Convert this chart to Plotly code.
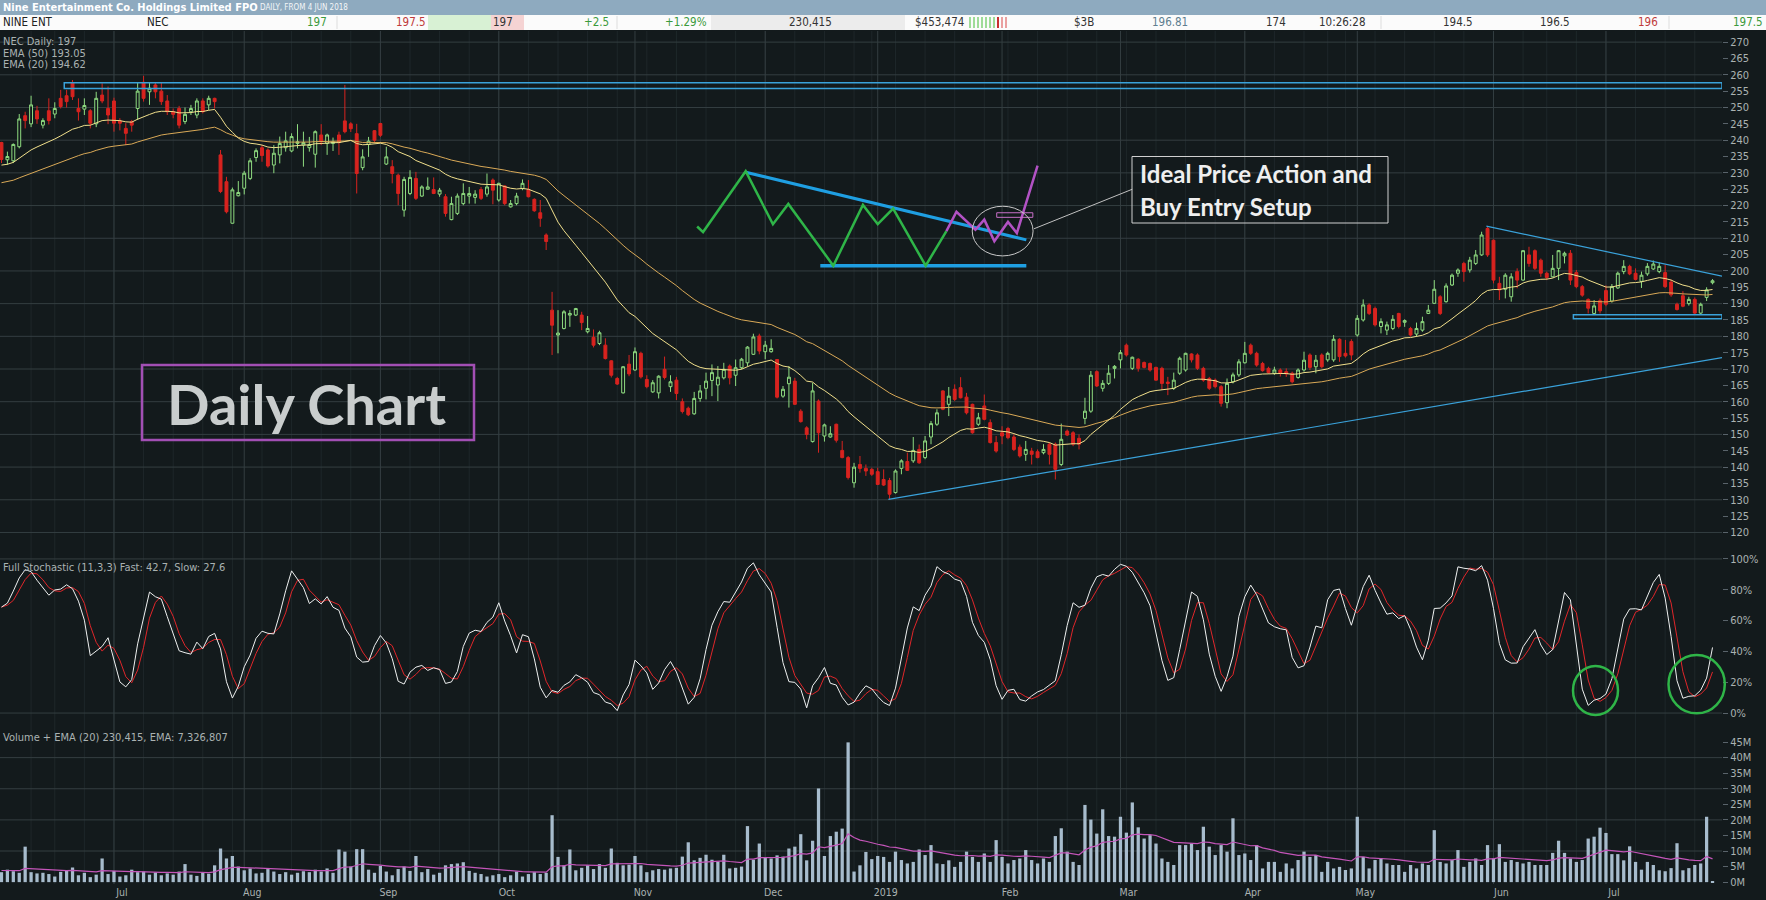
import pandas as pd
import plotly.graph_objects as go

# NEC daily candles, 4 Jun 2018 - 25 Jul 2019
opens = [
    239.3, 234, 233.7, 238, 247.5, 245, 249, 244.6, 249, 248,
    252.8, 253.6, 257.5, 249.7, 249.5, 249, 245, 253.8, 249.7, 252,
    245.9, 243.6, 245.7, 249.7, 257.7, 254.8, 256.9, 255, 252, 248.7,
    249.7, 245.7, 248.7, 247.7, 252, 250.8, 252.8, 235.5, 227.3, 214.6,
    223, 225.3, 228.3, 234.7, 237.7, 237, 232.4, 235.5, 237.7, 236.7,
    239, 238.5, 237.7, 235.7, 241.6, 239, 239, 241.6, 245.9, 245,
    242, 231.6, 238.7, 242.9, 245.1, 232.7, 231.9, 229.3, 218.6, 223.7,
    228.3, 222.9, 225, 224.9, 223.5, 222.7, 215.7, 217.6, 220.6, 222.9,
    222.5, 224.9, 223.5, 227.8, 221.7, 226, 219.6, 220.6, 225.2, 224.9,
    221.9, 217.8, 211, 188, 180.4, 182.4, 186.5, 186.5, 186.5, 181.4,
    179.7, 177.8, 177.3, 172.5, 167.1, 162.7, 171.5, 169.7, 174.8, 166.8,
    163, 162.7, 169.9, 164.6, 166.6, 160, 158, 156.3, 161, 164.1,
    166.5, 165.1, 167.3, 170.9, 168.1, 170.4, 171.9, 174.5, 180.1, 175.3,
    175.3, 172.9, 161.7, 165.5, 166.3, 157.1, 152, 147.8, 160.2, 149.5,
    149.2, 153.1, 145.1, 142.9, 135.2, 140.8, 139.6, 139.3, 138.6, 136.2,
    135.9, 132.2, 139.6, 141.7, 141.9, 145.4, 142.9, 149.2, 153.1, 163.3,
    159.2, 163.8, 164.3, 161.4, 159.2, 153.1, 158.7, 153.6, 147.5, 150.5,
    151.8, 149.2, 146.1, 143.9, 144.9, 144.7, 144.4, 147, 147, 140.8,
    151, 150.5, 148.8, 154.9, 157.1, 169.2, 164.1, 165.6, 170.2, 172.8,
    177.3, 170.2, 173, 172, 171.7, 170.5, 170.2, 166, 164.1, 168.7,
    169.7, 174.6, 174.3, 170.2, 167.1, 166.6, 164.6, 159.7, 166.1, 168.2,
    171.9, 177.3, 174.8, 171.7, 170.2, 168.7, 169.7, 169.2, 168.7, 167.4,
    169.7, 174.3, 170.7, 174.3, 172.8, 172.8, 179.1, 174.8, 178.4, 180.4,
    185, 189.6, 188.5, 183, 181.9, 182.4, 187, 184.3, 182.4, 180.7,
    181.9, 187, 190.1, 192.1, 190.6, 195.7, 199.3, 202.3, 200.3, 202.3,
    204.9, 213, 209.4, 196.2, 194.4, 192.1, 199.8, 197.2, 204.9, 206.2,
    203.3, 199.3, 198.2, 200.8, 204.6, 205.4, 199.5, 195.2, 191.3, 187,
    190.9, 194, 190.8, 194.8, 199.8, 201.4, 199.3, 196.8, 199.1, 200.6,
    199.8, 199.5, 196.6, 189.8, 192.4, 190, 191.3, 187.1, 191.9, 196.4,
]
highs = [
    239.5, 236.5, 239, 248, 248.7, 253.6, 250.5, 246.7, 252.8, 251.6,
    255.4, 255.4, 258.4, 252.8, 252.8, 249.5, 254.8, 257.4, 256.4, 253,
    246.7, 245.2, 246.2, 257.7, 259.7, 257.7, 257.7, 257.7, 253.8, 249.7,
    250.5, 250, 250.8, 252.8, 252.8, 253.6, 253, 237, 228.8, 225.5,
    227.5, 230.6, 234.5, 237.5, 238.5, 237.5, 238.5, 241.1, 242.6, 242.1,
    244.9, 242.6, 241, 243, 244.9, 242, 240.8, 242.6, 256.9, 245.5,
    245, 237.2, 241, 243.1, 245.3, 238, 233.9, 229.8, 228.8, 230.8,
    230.3, 226.2, 228.6, 228.6, 225.4, 223.5, 222.7, 223.7, 226.8, 225.7,
    224.7, 225.7, 229.8, 228.3, 227, 226.2, 221.7, 223.9, 228, 227.8,
    222.2, 221.7, 211.5, 193.6, 188, 188, 188, 188.7, 187.5, 186.2,
    182.1, 181.7, 179.4, 172.7, 167.6, 170.9, 174.3, 176.6, 175.3, 168.1,
    166.6, 168.1, 173.8, 168.1, 167.6, 161, 158.5, 163, 165.1, 168.9,
    171.4, 170.9, 171.9, 171.4, 172.9, 173.4, 177, 180.8, 180.8, 178.6,
    179.1, 173, 164.8, 170.9, 167.3, 157.7, 152.5, 165.8, 160.7, 153.3,
    152.5, 153.3, 148, 143.4, 141.3, 143.4, 140.8, 139.8, 139.8, 139.3,
    136.7, 139.3, 142.4, 144.4, 149.2, 146.9, 149.5, 154.1, 157.7, 163.5,
    164.5, 165.3, 167.5, 162.7, 159.4, 156.6, 162.2, 154.6, 149.5, 152.5,
    152.3, 150, 146.9, 148, 145.9, 145.4, 147, 147.5, 147.5, 153.3,
    151.5, 151, 150, 161.2, 169.4, 169.6, 166.6, 171.2, 171.2, 175.8,
    177.8, 173.8, 173.3, 172.3, 172, 170.7, 170.7, 167.6, 168.9, 173.8,
    175, 174.8, 174.8, 170.7, 167.6, 167.1, 165.1, 167.1, 168.9, 173,
    178.3, 177.8, 175.3, 172.2, 170.7, 170.7, 170.2, 170.2, 169.2, 170.2,
    175.3, 174.8, 174.3, 174.8, 175.3, 180.4, 179.4, 178.9, 179.1, 186.5,
    191.3, 190.1, 189.1, 185.5, 184.5, 186.5, 187.2, 185.2, 182.9, 184.2,
    186, 189.6, 197.2, 192.6, 196.2, 199.2, 200.8, 202.8, 204.3, 206.4,
    212, 213.7, 209.6, 198.2, 199.3, 199.3, 200.8, 206.4, 207.4, 206.6,
    203.8, 199.8, 204.9, 206.4, 205.9, 206.4, 200.3, 195.7, 191.6, 191.1,
    191.6, 195.6, 196, 199.8, 203.3, 201.9, 200.8, 199.8, 202.4, 203.2,
    202.6, 201.9, 197.4, 190.3, 193.8, 192.1, 191.9, 190.3, 195, 197.5,
]
lows = [
    233, 232.5, 233, 237.5, 243.6, 244, 245, 243.6, 244.8, 246.7,
    249.7, 250, 252.3, 246, 247.7, 243.6, 244, 251.3, 244.9, 242.6,
    243, 238.5, 242.6, 246.2, 251.8, 250.8, 252.8, 250.8, 247.7, 246.7,
    243.6, 244.9, 247.7, 246.7, 248.2, 249.2, 249.7, 223.8, 217.6, 214.5,
    222.8, 223.4, 227.8, 233.4, 233.4, 231.6, 229.9, 232.9, 236.5, 236.3,
    237.5, 231.9, 236.5, 231.6, 238.5, 235.5, 236.7, 235.5, 242.1, 242.5,
    223.7, 230.8, 234.9, 239.5, 241, 232.4, 226.8, 220.1, 216.6, 223.2,
    221.7, 222.7, 224.9, 223.5, 222.7, 216.6, 215.5, 217.1, 220.1, 220.6,
    220.6, 221.7, 222.7, 220.4, 221.2, 220.1, 219.4, 220.1, 224.7, 222.5,
    218.1, 213.5, 206.4, 174.3, 174.8, 182.1, 182.9, 186.2, 181.9, 180.9,
    176.6, 177.3, 172.9, 167.4, 165.1, 162.5, 167.8, 169.5, 167.1, 164.1,
    162.7, 161, 166.8, 163, 160.5, 156.4, 155.6, 156, 160, 160.7,
    161.7, 160.2, 166.8, 165.3, 164.8, 169.9, 170.9, 174.3, 174.5, 173,
    175, 161, 161.2, 158.2, 159, 153.6, 148.5, 147.5, 144.4, 147.8,
    149, 147.5, 142.7, 136.2, 133.7, 138.3, 137.3, 137.3, 134.5, 134.2,
    130.1, 131.9, 137.8, 138.8, 141.3, 141, 142.4, 147, 152.6, 157.4,
    155.6, 160.2, 161, 156.1, 150.2, 152.6, 154.3, 147.2, 144.4, 147,
    148.5, 144.9, 142.9, 141.9, 140.8, 142.7, 143.9, 140.8, 136.2, 140.3,
    149.5, 146.4, 145.4, 153.1, 156.6, 164.5, 163.1, 165.1, 167.1, 170.2,
    173.8, 169.7, 169.2, 170.2, 169.2, 166.4, 163.6, 162, 163.6, 168.2,
    169.2, 172, 169.7, 166.1, 163.6, 164.1, 158.5, 158, 165.6, 167.6,
    171.7, 174.3, 170.7, 169.2, 168.5, 168.2, 167.7, 167.6, 165.6, 167,
    169.2, 169.7, 168.7, 170.2, 172.2, 172.2, 172.2, 173.5, 172.7, 179.9,
    184.5, 186.5, 183, 180.9, 180.4, 181.9, 182.4, 182.9, 179.9, 180.1,
    181.4, 186.8, 189.9, 186.5, 190.3, 195.4, 198.2, 196.7, 199.5, 201.8,
    204.6, 204.3, 196.2, 191.1, 191.6, 190.6, 194.7, 197, 201.3, 200.3,
    198.2, 197.2, 198, 197.2, 202.3, 195.7, 194.7, 192.1, 187, 186.5,
    187, 189.2, 190.3, 194.5, 199, 198.7, 197.1, 194.8, 198.5, 200.3,
    199.3, 194.8, 192.1, 187.9, 188.9, 189.4, 186.6, 186.8, 190.8, 195.9,
]
closes = [
    234.1, 235, 238.7, 246.5, 246, 250.8, 246.5, 246, 246, 249.7,
    250.3, 251.8, 253.3, 248.7, 250.6, 245.2, 252.8, 252, 247.7, 245.2,
    245.2, 242.1, 244.6, 255, 252.8, 255.9, 254.8, 251.8, 248.7, 247.9,
    244.6, 247.9, 249.7, 252, 248.7, 252.8, 251.8, 224.3, 218.1, 224.8,
    224, 229.9, 233.7, 236.8, 235.3, 232.1, 236, 239, 239.8, 241.1,
    239.5, 239.3, 238.7, 242.6, 239.5, 241.6, 239.5, 239.3, 242.6, 243.5,
    229.8, 234.9, 239.7, 240, 241.5, 234.9, 229.8, 223.7, 228, 228.6,
    222.2, 225.7, 225.7, 223.7, 224.7, 217.6, 220.6, 222.9, 223.7, 223.7,
    223.5, 222.2, 225.7, 224.7, 226.8, 220.6, 220.6, 222.9, 226.8, 222.7,
    218.4, 216.1, 209, 183.4, 181, 187.5, 187, 188.5, 184.2, 182.4,
    177.3, 181.1, 173.2, 168.1, 165.4, 170.7, 168.5, 175.3, 167.6, 164.6,
    165.8, 167.8, 167.4, 166.1, 162.5, 157, 156, 161, 163.3, 166.3,
    168.9, 167.5, 169.9, 167.3, 170.4, 173, 176.7, 179.8, 175.5, 177.3,
    176.3, 161.4, 163.8, 167.5, 159.2, 153.9, 150, 163.3, 150.5, 152.9,
    150.2, 148.2, 142.9, 136.8, 140, 139.6, 138.8, 137.8, 134.7, 134.5,
    131.7, 138.8, 141.9, 139, 145.1, 141.3, 148, 153.3, 156.6, 157.7,
    161.7, 160.7, 161.2, 156.6, 150.5, 155.1, 154.6, 147.5, 144.9, 149.5,
    149, 145.4, 143.4, 145.4, 143.9, 142.9, 145.4, 143.9, 139.3, 148.5,
    149.8, 147, 147, 157.1, 168.1, 164.8, 165.6, 168.7, 170.8, 175,
    174.3, 173.6, 170.2, 170.5, 169.7, 166.6, 165.6, 165.6, 166.6, 173.3,
    174.8, 172.8, 170.2, 166.6, 164.1, 164.6, 159.5, 165.6, 168.2, 172.2,
    174.8, 174.8, 171.2, 169.5, 168.9, 169.7, 168.7, 168.5, 166.1, 169.7,
    172.7, 170.5, 172.7, 170.7, 174.8, 179.1, 173.8, 174, 174.3, 185.5,
    189.6, 187, 183.5, 184.5, 183.5, 185.2, 183, 184.8, 180.4, 182.4,
    184.5, 188, 194.4, 187, 195.4, 198.7, 200.3, 199.8, 203.3, 204.9,
    211, 204.9, 197.2, 194.2, 198.7, 198.2, 197.2, 206.2, 202.3, 200.8,
    199.3, 198, 200.8, 206.2, 205.4, 197.2, 195.2, 192.6, 188.6, 189.3,
    187.8, 189.8, 195.2, 199.3, 201.4, 199.1, 197.4, 198.7, 201.4, 202.1,
    201.4, 195.2, 192.7, 188.2, 189.2, 191.3, 187.1, 189.8, 194.2, 197,
]
# daily volume, millions of shares
volumes_m = [
    3.2, 4.0, 3.5, 3.0, 11.4, 3.2, 2.8, 3.0, 2.6, 1.8,
    3.3, 3.8, 4.7, 2.2, 3.0, 1.6, 2.4, 7.6, 2.6, 3.6,
    1.8, 2.2, 4.0, 3.2, 3.4, 2.4, 3.1, 2.2, 2.8, 2.4,
    3.4, 5.8, 2.4, 2.0, 3.0, 2.7, 5.4, 10.8, 7.6, 8.4,
    5.0, 3.8, 4.4, 2.8, 3.0, 4.2, 3.4, 2.6, 3.2, 2.4,
    3.0, 3.5, 3.2, 4.0, 3.4, 4.4, 3.0, 10.5, 9.8, 5.0,
    10.6, 10.6, 4.0, 3.0, 5.2, 3.4, 2.2, 4.2, 5.0, 3.6,
    8.4, 3.2, 4.2, 2.4, 3.0, 5.4, 5.8, 6.0, 6.4, 3.6,
    3.0, 2.6, 1.8, 2.2, 2.6, 1.6, 2.2, 3.4, 1.8, 2.6,
    3.2, 2.6, 3.0, 21.5, 8.1, 5.4, 10.5, 3.8, 4.6, 5.4,
    4.2, 5.8, 4.6, 10.8, 6.2, 5.4, 5.6, 8.4, 5.4, 3.2,
    3.8, 4.2, 4.0, 4.4, 4.6, 8.2, 12.8, 7.0, 7.8, 8.8,
    7.2, 6.6, 8.8, 4.4, 4.6, 5.0, 18.0, 7.2, 12.4, 8.0,
    7.6, 8.6, 8.2, 10.8, 11.4, 15.4, 7.0, 13.3, 30.1, 8.4,
    14.8, 16.2, 17.2, 44.9, 3.4, 5.4, 9.7, 7.4, 8.4,
    8.1, 6.5, 9.8, 7.1, 6.0, 6.5, 10.5, 8.7, 11.9, 6.0,
    5.8, 7.0,
    4.9, 6.5, 9.8, 8.1, 6.5, 9.2, 6.5, 13.5, 8.1, 6.0,
    7.1, 7.6, 10.3, 7.1, 6.0, 7.6, 6.5, 14.8, 17.3, 9.8,
    6.5, 5.5, 24.8, 20.1, 15.6, 23.4, 14.8, 14.6, 21.0, 15.9,
    25.6, 17.6, 14.0, 15.1, 12.4, 7.6, 6.5, 5.5, 11.9, 11.9,
    12.4, 10.3, 17.8, 11.4, 8.7, 11.9, 9.8, 20.5, 8.7, 9.2,
    7.1, 11.9, 4.4, 6.5, 6.5, 3.3, 6.0, 4.4, 7.1, 9.8,
    8.1, 8.7, 3.3, 6.5, 4.4, 4.9, 3.9, 4.4, 21.0, 8.1,
    4.4, 7.1, 7.6, 6.0, 5.5, 5.5, 3.3, 5.5, 4.4, 6.0,
    5.5, 16.7, 6.5, 6.0, 7.1, 10.3, 4.9, 6.5, 7.6, 5.5,
    11.9, 7.6, 12.2, 6.5, 7.1, 6.5, 6.0, 6.5, 5.5, 5.5,
    5.5, 9.4, 13.3, 9.4, 7.6, 6.5, 7.1, 14.0, 14.6, 17.5,
    15.8, 9.0, 9.0, 7.0, 11.5, 6.5, 4.0, 6.5, 5.5, 3.8,
    3.5, 4.5, 12.5, 3.8, 4.5, 5.5, 6.0, 21.0, 0.23,
]
# indicator state at the left edge of the chart (from trading before 4 Jun)
ema20_start = 232.2
ema50_start = 226.7
vol_ema_start = 3.8
prior_high = 239.6   # 10-day high / low just before the first bar
prior_low = 222.0

# axis tick labels
price_ticks = list(range(120, 271, 5))
stoch_ticks = list(range(0, 101, 20))
vol_ticks = list(range(0, 46, 5))

asx_holidays = ["2018-06-11", "2018-12-25", "2018-12-26", "2019-01-01",
                "2019-01-28", "2019-04-19", "2019-04-22", "2019-04-25", "2019-06-10"]

days = pd.bdate_range("2018-06-04", "2019-07-25")
days = days[~days.isin(pd.to_datetime(asx_holidays))][:len(closes)]
idx = list(range(len(days)))


def ema(vals, span, seed):
    k = 2.0 / (span + 1)
    e = seed
    out = []
    for v in vals:
        e = e + k * (v - e)
        out.append(e)
    return out


ema20 = ema(closes, 20, ema20_start)
ema50 = ema(closes, 50, ema50_start)
vol_ema = ema(volumes_m, 20, vol_ema_start)

# full stochastic (11,3,3)
raw_k = []
for i in idx:
    hi = max(highs[max(0, i - 10):i + 1])
    lo = min(lows[max(0, i - 10):i + 1])
    if i < 10:
        hi, lo = max(hi, prior_high), min(lo, prior_low)
    raw_k.append(100 * (closes[i] - lo) / (hi - lo))
fast = pd.Series(raw_k).rolling(3, min_periods=1).mean()
slow = fast.rolling(3, min_periods=1).mean()

# month ticks and weekly lines
month_idx = [i for i in idx if i == 0 or days[i].month != days[i - 1].month][1:]
month_txt = ["2019" if days[i].month == 1 else days[i].strftime("%b") for i in month_idx]
week_idx = [i for i in idx[1:] if days[i].weekday() < days[i - 1].weekday()]

BG = "#131a1c"
GRID = "#343e41"
WEEK = "#1e272a"
TXT = "#aab2b2"
FONT = "Liberation Sans Narrow, DejaVu Sans Condensed, Arial Narrow, sans-serif"
BOLDF = "Lato, Open Sans, sans-serif"

W, H = 1766, 900
PR, PT, PB = 1722, 31, 884


def px(x):
    return x / PR


def py(y):
    return (PB - y) / (PB - PT)


fig = go.Figure()

fig.add_trace(go.Candlestick(
    x=idx, open=opens, high=highs, low=lows, close=closes,
    increasing=dict(line=dict(color="#8fdc80", width=1), fillcolor=BG),
    decreasing=dict(line=dict(color="#d8231f", width=1), fillcolor="#d8231f"),
    whiskerwidth=0, showlegend=False, yaxis="y"))
fig.add_trace(go.Scatter(x=idx, y=ema50, mode="lines", line=dict(color="#d9a957", width=1),
                         showlegend=False, yaxis="y"))
fig.add_trace(go.Scatter(x=idx, y=ema20, mode="lines", line=dict(color="#f1e08c", width=1),
                         showlegend=False, yaxis="y"))

fig.add_trace(go.Scatter(x=idx, y=slow, mode="lines", line=dict(color="#e0262a", width=1),
                         showlegend=False, yaxis="y2"))
fig.add_trace(go.Scatter(x=idx, y=fast, mode="lines", line=dict(color="#eef0f0", width=1),
                         showlegend=False, yaxis="y2"))

fig.add_trace(go.Bar(x=idx, y=volumes_m, marker=dict(color="#a7bccd", line=dict(width=0)),
                     showlegend=False, yaxis="y3"))
fig.add_trace(go.Scatter(x=idx, y=vol_ema, mode="lines", line=dict(color="#c455b9", width=1.2),
                         showlegend=False, yaxis="y3"))

shapes = []
# grid
for i in week_idx:
    shapes.append(dict(type="line", xref="x", yref="paper", x0=i, x1=i, y0=0, y1=1,
                       line=dict(color=WEEK, width=1), layer="below"))
for i in month_idx:
    shapes.append(dict(type="line", xref="x", yref="paper", x0=i, x1=i, y0=0, y1=1,
                       line=dict(color=GRID, width=1), layer="below"))
for p in range(120, 271, 10):
    shapes.append(dict(type="line", xref="paper", yref="y", x0=0, x1=1, y0=p, y1=p,
                       line=dict(color=GRID, width=1), layer="below"))
for s in (0, 100):
    shapes.append(dict(type="line", xref="paper", yref="y2", x0=0, x1=1, y0=s, y1=s,
                       line=dict(color=GRID, width=1), layer="below"))
for v in (10, 20, 30, 40):
    shapes.append(dict(type="line", xref="paper", yref="y3", x0=0, x1=1, y0=v, y1=v,
                       line=dict(color=GRID, width=1), layer="below"))

BLUE = "#3aa2da"
# resistance and support boxes, trend lines
shapes.append(dict(type="rect", xref="x", yref="y", x0=10.6, x1=290.6, y0=255.8, y1=257.6,
                   line=dict(color=BLUE, width=1.5)))
shapes.append(dict(type="rect", xref="x", yref="y", x0=265.5, x1=290.6, y0=185.4, y1=186.6,
                   line=dict(color=BLUE, width=1.5)))
shapes.append(dict(type="line", xref="x", yref="y", x0=149.8, y0=130.1, x1=290.6, y1=173.5,
                   line=dict(color=BLUE, width=1.2)))
shapes.append(dict(type="line", xref="x", yref="y", x0=250.8, y0=213.7, x1=290.6, y1=198.4,
                   line=dict(color=BLUE, width=1.2)))

# hand drawn pattern sketch
green_pts = [(117.5, 213.6), (118.5, 211.9), (125.7, 230.5), (130.3, 214.3), (132.9, 220.5),
             (140.5, 201.6), (145.5, 220.2), (148.0, 214.3), (150.6, 219.1), (156.1, 201.6),
             (159.6, 212.2)]
purple_pts = [(159.6, 212.2), (161.3, 218.1), (164.5, 212.6), (166.0, 215.7), (167.7, 209.1),
              (170.0, 215.0), (171.5, 211.6), (175.0, 232.2)]


def path(pts):
    return "M " + " L ".join(f"{a},{b}" for a, b in pts)


shapes.append(dict(type="line", xref="x", yref="y", x0=125.7, y0=230.2, x1=173.1, y1=209.5,
                   line=dict(color="#1f9fe2", width=3)))
shapes.append(dict(type="line", xref="x", yref="y", x0=138.3, y0=201.6, x1=173.1, y1=201.6,
                   line=dict(color="#1f9fe2", width=3.5)))
shapes.append(dict(type="path", xref="x", yref="y", path=path(green_pts),
                   line=dict(color="#2fb548", width=2.5)))
shapes.append(dict(type="path", xref="x", yref="y", path=path(purple_pts),
                   line=dict(color="#b252c4", width=2.5)))
shapes.append(dict(type="rect", xref="x", yref="y", x0=168.1, x1=174.2, y0=216.4, y1=217.8,
                   line=dict(color="#c870c8", width=1)))
shapes.append(dict(type="circle", xref="x", yref="y", x0=163.96, x1=174.24, y0=204.6, y1=219.8,
                   line=dict(color="#c8c8c8", width=1)))
shapes.append(dict(type="line", xref="x", yref="y", x0=174.4, y0=212.9, x1=191.0, y1=225.0,
                   line=dict(color="#c0c0c0", width=1)))

# text boxes
shapes.append(dict(type="rect", xref="paper", yref="paper", x0=px(1132), x1=px(1388),
                   y0=py(223), y1=py(156.5), line=dict(color="#d0d0d0", width=1)))
shapes.append(dict(type="rect", xref="paper", yref="paper", x0=px(142), x1=px(474),
                   y0=py(440), y1=py(365), line=dict(color="#a24fb4", width=2.5)))

# stochastic circles
shapes.append(dict(type="circle", xref="paper", yref="paper", x0=px(1573), x1=px(1618),
                   y0=py(715), y1=py(666), line=dict(color="#2fb548", width=2.5)))
shapes.append(dict(type="circle", xref="paper", yref="paper", x0=px(1668.5), x1=px(1724.8),
                   y0=py(713.3), y1=py(655), line=dict(color="#2fb548", width=2.5)))

# header bars
shapes.append(dict(type="rect", xref="paper", yref="paper", x0=0, x1=px(W), y0=py(15), y1=py(0),
                   fillcolor="#8eaabf", line=dict(width=0), layer="below"))
shapes.append(dict(type="rect", xref="paper", yref="paper", x0=0, x1=px(W), y0=py(30), y1=py(15),
                   fillcolor="#fbfbfb", line=dict(width=0), layer="below"))
for x0, x1, c in [(428, 491, "#d8f1d4"), (491, 524, "#f5d3d3"), (711, 905, "#ececec")]:
    shapes.append(dict(type="rect", xref="paper", yref="paper", x0=px(x0), x1=px(x1),
                       y0=py(30), y1=py(15), fillcolor=c, line=dict(width=0), layer="below"))
for k in range(7):
    shapes.append(dict(type="rect", xref="paper", yref="paper", x0=px(969 + 4 * k), x1=px(971 + 4 * k),
                       y0=py(28), y1=py(17), fillcolor="#9fdc98", line=dict(width=0)))
for k in range(3):
    c = "#c83030" if k == 0 else "#eaa0a0"
    shapes.append(dict(type="rect", xref="paper", yref="paper", x0=px(997 + 4 * k), x1=px(999 + 4 * k),
                       y0=py(28), y1=py(17), fillcolor=c, line=dict(width=0)))
for x in (337, 617, 1381, 1669):
    shapes.append(dict(type="line", xref="paper", yref="paper", x0=px(x), x1=px(x), y0=py(29), y1=py(16),
                       line=dict(color="#dddddd", width=1)))

annotations = []


def label(x, y, text, size=11, color=TXT, anchor="left", family=FONT):
    annotations.append(dict(xref="paper", yref="paper", x=px(x), y=py(y), text=text, showarrow=False,
                            xanchor=anchor, yanchor="middle", font=dict(family=family, size=size, color=color)))


label(1, 7.5, "<b>Nine Entertainment Co. Holdings Limited FPO</b>", 11, "#ffffff")
label(258, 8, "DAILY, FROM 4 JUN 2018", 8, "#f4f6f8")

ticker = [(1, "NINE ENT", "#222222", "left"), (145, "NEC", "#222222", "left"),
          (329, "197", "#3b9a3b", "right"), (428, "197.5", "#c03a3a", "right"),
          (515, "197", "#333333", "right"), (611, "+2.5", "#3b9a3b", "right"),
          (709, "+1.29%", "#3b9a3b", "right"), (834, "230,415", "#333333", "right"),
          (966, "$453,474", "#333333", "right"), (1096, "$3B", "#333333", "right"),
          (1190, "196.81", "#5f7f90", "right"), (1288, "174", "#333333", "right"),
          (1317, "10:26:28", "#333333", "left"), (1475, "194.5", "#333333", "right"),
          (1572, "196.5", "#333333", "right"), (1660, "196", "#c03a3a", "right"),
          (1765, "197.5", "#3b9a3b", "right")]
for x, t, c, a in ticker:
    label(x, 22.5, t, 11.5, c, a)

label(1, 41, "NEC Daily: 197", 11)
label(1, 53, "EMA (50) 193.05", 11)
label(1, 65, "EMA (20) 194.62", 11)
label(1, 567, "Full Stochastic (11,3,3) Fast: 42.7, Slow: 27.6", 11)
label(1, 737, "Volume + EMA (20) 230,415, EMA: 7,326,807", 11)

annotations.append(dict(xref="paper", yref="paper", x=px(306), y=py(403), text="<b>Daily Chart</b>",
                        showarrow=False, xanchor="center", yanchor="middle",
                        font=dict(family=BOLDF, size=56, color="#c9cdcd")))
label(1138, 173, "<b>Ideal Price Action and</b>", 24, "#efefef", family=BOLDF)
label(1138, 207, "<b>Buy Entry Setup</b>", 24, "#efefef", family=BOLDF)

axis_common = dict(side="right", showgrid=False, zeroline=False, showline=False, ticks="outside",
                   ticklen=5, tickcolor="#59636a", tickfont=dict(family=FONT, size=11, color=TXT),
                   anchor="x", fixedrange=True)

fig.update_layout(
    width=W, height=H, autosize=False,
    margin=dict(l=0, r=W - PR, t=PT, b=H - PB, pad=0),
    paper_bgcolor=BG, plot_bgcolor=BG,
    showlegend=False, bargap=0.45, hovermode=False,
    xaxis=dict(range=[-0.25, 290.6], tickvals=month_idx, ticktext=month_txt, showgrid=False,
               zeroline=False, showline=False, ticks="", anchor="y3", rangeslider=dict(visible=False),
               tickfont=dict(family=FONT, size=10.5, color=TXT), ticklabelshift=8, ticklabelstandoff=0),
    yaxis=dict(domain=[py(556), 1], range=[112.8, 273.4], tickvals=price_ticks,
               ticktext=[str(v) for v in price_ticks], **axis_common),
    yaxis2=dict(domain=[py(724), py(556)], range=[-7.1, 101.9], tickvals=stoch_ticks,
                ticktext=[f"{v}%" for v in stoch_ticks], **axis_common),
    yaxis3=dict(domain=[0, py(724)], range=[-0.6, 50.8], tickvals=vol_ticks,
                ticktext=[f"{v}M" for v in vol_ticks], **axis_common),
    shapes=shapes, annotations=annotations,
)

fig.write_html("out.html", config={"displayModeBar": False},
               post_script="document.body.style.margin='0';")
